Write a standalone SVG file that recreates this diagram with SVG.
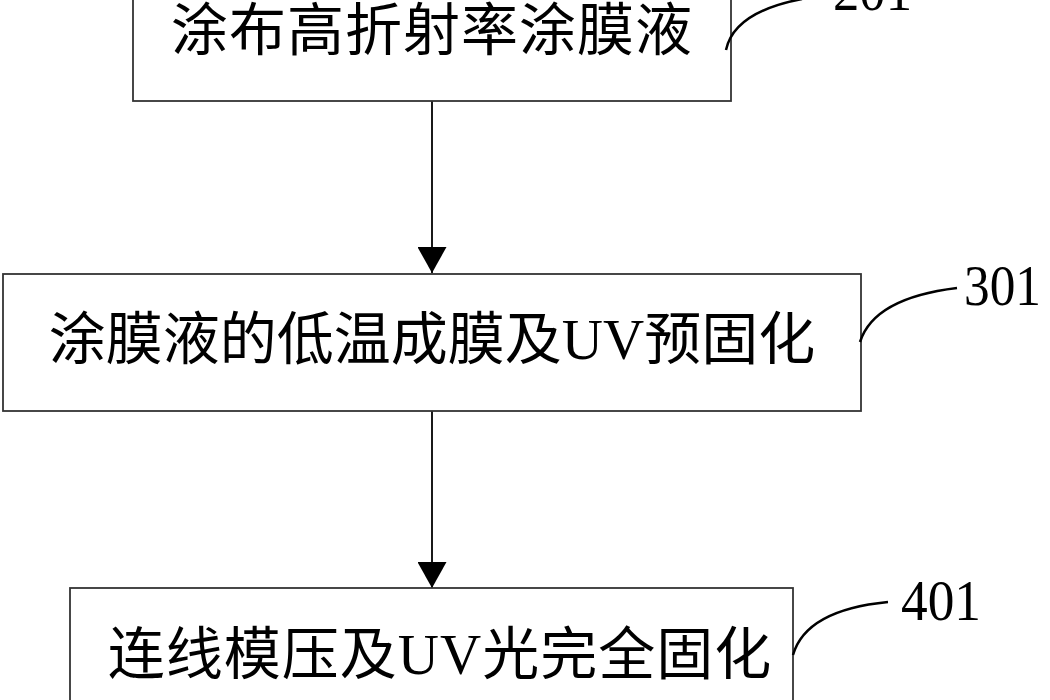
<svg xmlns="http://www.w3.org/2000/svg" width="1050" height="700" viewBox="0 0 1050 700">
<style>
.box{fill:#fff;stroke:#333;stroke-width:1.8}
.t{font-family:"Liberation Serif","Noto Sans CJK SC",serif;font-size:57px;fill:#000;text-anchor:middle}
.n{font-family:"Liberation Serif",serif;font-size:58px;fill:#000}
.c{fill:none;stroke:#000;stroke-width:2.5}
.a{stroke:#000;stroke-width:1.8}
</style>
<defs>
<marker id="ah" markerWidth="26" markerHeight="29" refX="26" refY="14.5" orient="auto" markerUnits="userSpaceOnUse" viewBox="0 0 26 29">
<path d="M0,0 L26,14.5 L0,29 Z" fill="#000"/>
</marker>
</defs>
<rect width="1050" height="700" fill="#fff"/>
<g id="connectors">
<line class="a" x1="432" y1="101" x2="432" y2="273" marker-end="url(#ah)"/>
<line class="a" x1="432" y1="411" x2="432" y2="588" marker-end="url(#ah)"/>
</g>
<g id="node201">
<rect class="box" x="133" y="-10" width="598" height="111"/>
<text class="t" x="432" y="50" letter-spacing="1">涂布高折射率涂膜液</text>
<path class="c" d="M726,50 Q734,12 802,-1"/>
<text class="n" x="833" y="10" textLength="79" lengthAdjust="spacingAndGlyphs">201</text>
</g>
<g id="node301">
<rect class="box" x="3" y="274" width="858" height="137"/>
<text class="t" x="432" y="359">涂膜液的低温成膜及UV预固化</text>
<path class="c" d="M860,342 Q874,298 957,288"/>
<text class="n" x="964" y="305" textLength="77" lengthAdjust="spacingAndGlyphs">301</text>
</g>
<g id="node401">
<rect class="box" x="70" y="588" width="723" height="130"/>
<text class="t" x="440" y="674" letter-spacing="1">连线模压及UV光完全固化</text>
<path class="c" d="M793,655 Q806,610 888,602"/>
<text class="n" x="901" y="620" textLength="80" lengthAdjust="spacingAndGlyphs">401</text>
</g>
</svg>
